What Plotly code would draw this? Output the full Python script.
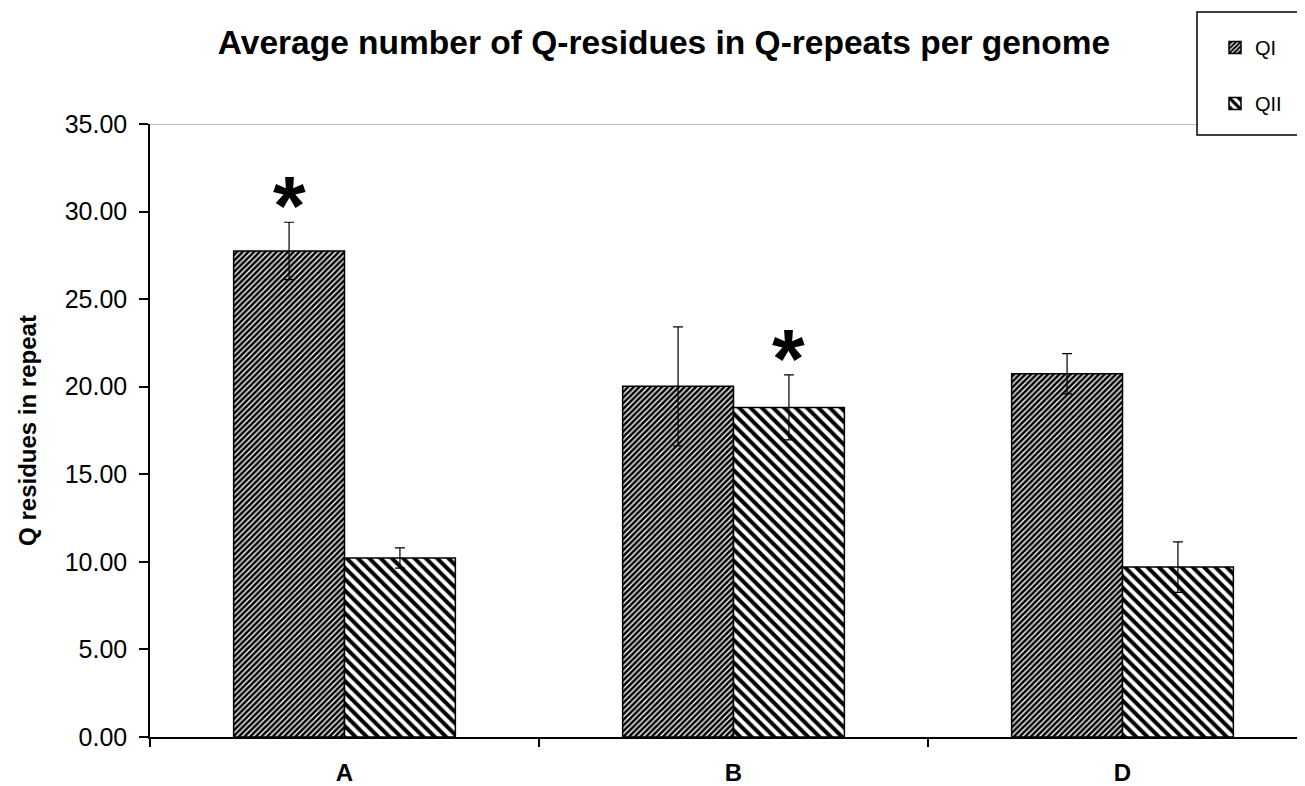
import plotly.graph_objects as go

categories = ["A", "B", "D"]
qi_values = [27.75, 20.02, 20.74]
qi_errors = [1.64, 3.40, 1.15]
qii_values = [10.22, 18.82, 9.70]
qii_errors = [0.58, 1.86, 1.44]
# significance markers: (category index, series index)
stars = [(0, 0), (1, 1)]

FONT = "Liberation Sans, Arial, sans-serif"

# page body has an 8px margin; figure is sized to fill the rest of the window
W, H = 1297, 778
L, T, B, R = 142, 116, 49, 0
plot_w = W - L - R
plot_h = H - T - B
cat_px = 389.0

def px_x(page_x):
    return (page_x - 8 - L) / plot_w

def px_y(page_y):
    return (T + plot_h - (page_y - 8)) / plot_h

fig = go.Figure()
fig.add_trace(go.Bar(
    name="QI", x=categories, y=qi_values,
    error_y=dict(type="data", array=qi_errors, color="black", thickness=1.2, width=5),
    marker=dict(color="white", line=dict(color="black", width=1.5),
                pattern=dict(shape="/", size=4, solidity=0.65, fgcolor="black",
                             bgcolor="white", fgopacity=1)),
    legendgroup="g1",
))
fig.add_trace(go.Bar(
    name="QII", x=categories, y=qii_values,
    error_y=dict(type="data", array=qii_errors, color="black", thickness=1.2, width=5),
    marker=dict(color="white", line=dict(color="black", width=1.5),
                pattern=dict(shape="\\", size=8, solidity=0.5, fgcolor="black",
                             bgcolor="white", fgopacity=1)),
    legendgroup="g2",
))

bargap = 0.43
half = (1 - bargap) / 4
series_vals = [qi_values, qii_values]
series_errs = [qi_errors, qii_errors]
for ci, si in stars:
    offset = -half if si == 0 else half
    fig.add_annotation(
        x=ci + offset, y=series_vals[si][ci] + series_errs[si][ci] + 0.9,
        text="<b>*</b>", showarrow=False, xref="x", yref="y", yanchor="middle",
        font=dict(family=FONT, size=84, color="black"),
    )

# grey top border of plot area
fig.add_shape(type="line", xref="paper", yref="y", x0=0, x1=1, y0=35, y1=35,
              line=dict(color="#808080", width=1.2), layer="below")
# legend frame
fig.add_shape(type="rect", xref="paper", yref="paper",
              x0=px_x(1197), x1=px_x(1304), y0=px_y(135), y1=px_y(12),
              line=dict(color="black", width=1.5), fillcolor="white", layer="above")

fig.update_layout(
    width=W, height=H,
    margin=dict(l=L, r=R, t=T, b=B, autoexpand=False),
    paper_bgcolor="white", plot_bgcolor="white",
    barmode="group", bargap=bargap, bargroupgap=0,
    font=dict(family=FONT, color="black"),
    title=dict(text="<b>Average number of Q-residues in Q-repeats per genome</b>",
               x=(664 - 8) / W, xanchor="center", xref="container",
               y=1 - (42 - 8) / H, yanchor="middle", yref="container",
               font=dict(family=FONT, size=33.5, color="black")),
    xaxis=dict(
        type="category", range=[-0.5, -0.5 + plot_w / cat_px], automargin=False,
        showline=True, linecolor="black", linewidth=1.5,
        ticks="outside", ticklen=8, tickcolor="black", tickwidth=1.5,
        tickson="boundaries", showgrid=False, zeroline=False,
        tickfont=dict(family=FONT, size=24, color="black"),
        tickvals=categories, ticktext=["<b>%s</b>" % c for c in categories],
        ticklabelstandoff=13,
    ),
    yaxis=dict(
        range=[0, 35], dtick=5, tickformat=".2f", automargin=False,
        showline=True, linecolor="black", linewidth=1.5,
        ticks="outside", ticklen=9, tickcolor="black", tickwidth=1.5,
        showgrid=False, zeroline=False,
        tickfont=dict(family=FONT, size=25, color="black"),
        ticklabelstandoff=7,
        title=dict(text="<b>Q residues in repeat</b>", standoff=21,
                   font=dict(family=FONT, size=24, color="black")),
    ),
    legend=dict(
        x=px_x(1197), xanchor="left",
        y=px_y(47 - 19), yanchor="top",
        bgcolor="rgba(0,0,0,0)", borderwidth=0,
        font=dict(family=FONT, size=20, color="black"),
        tracegroupgap=27, indentation=18,
    ),
    showlegend=True,
)

fig.write_html("out.html")
